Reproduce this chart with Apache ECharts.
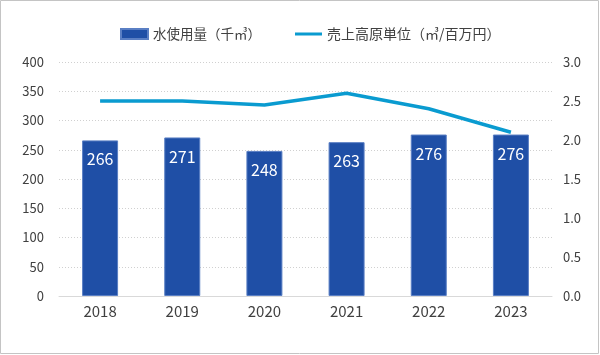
<!DOCTYPE html>
<html><head><meta charset="utf-8">
<script src="https://cdn.jsdelivr.net/npm/echarts@6/dist/echarts.min.js"></script>
<style>html,body{margin:0;padding:0;background:#fff}#c{width:600px;height:355px}</style>
</head><body><div id="c"></div>
<script>
const categories = ['2018','2019','2020','2021','2022','2023'];
const waterUse = [266, 271, 248, 263, 276, 276];
const intensity = [2.5, 2.5, 2.45, 2.6, 2.4, 2.1];
const leftTicks = {min:0, max:400, interval:50};
const rightTicks = {min:0, max:3, interval:0.5};
const barName = '水使用量（千㎥）';
const lineName = '売上高原単位（㎥/百万円）';

const font = '"Noto Sans CJK JP", "Noto Sans", sans-serif';
const chart = echarts.init(document.getElementById('c'), null, {renderer:'canvas'});
chart.setOption({
  animation:false,
  textStyle:{fontFamily:font},
  graphic:[{type:'rect', shape:{x:0.5,y:0.5,width:598,height:353}, style:{fill:'none', stroke:'#c4c4c4', lineWidth:1}, silent:true}],
  legend:{
    top:22, left:115, itemGap:34, itemWidth:27, itemHeight:10,
    textStyle:{fontFamily:font, fontSize:13, color:'#404040'},
    data:[{name:barName, icon:'rect', textStyle:{fontSize:13.5}},
          {name:lineName, icon:'path://M0,0L0.01,0ZM0,10L0.01,10ZM0,3.4H27V6.6H0Z', itemStyle:{color:'#0a9bd0', borderWidth:0}, textStyle:{fontSize:14}}]
  },
  grid:{left:59, right:48, top:62, bottom:59},
  xAxis:{
    type:'category', data:categories,
    axisLine:{lineStyle:{color:'#d9d9d9', width:1}},
    axisTick:{show:false},
    axisLabel:{color:'#404040', fontSize:15, margin:8, fontFamily:font}
  },
  yAxis:[{
    type:'value', min:leftTicks.min, max:leftTicks.max, interval:leftTicks.interval,
    axisLine:{show:false}, axisTick:{show:false},
    axisLabel:{color:'#404040', fontSize:13, margin:15, fontFamily:font},
    splitLine:{lineStyle:{color:'#d0d0d0', type:[1,2], width:1}}
  },{
    type:'value', min:rightTicks.min, max:rightTicks.max, interval:rightTicks.interval,
    axisLine:{show:false}, axisTick:{show:false},
    axisLabel:{color:'#404040', fontSize:13, margin:11, fontFamily:font, formatter:v=>v.toFixed(1)},
    splitLine:{show:false}
  }],
  series:[{
    name:barName, type:'bar', data:waterUse, barWidth:36, yAxisIndex:0,
    itemStyle:{color:'#1f4fa6', borderColor:'#5a7fc4', borderWidth:1},
    label:{show:true, position:'insideTop', distance:11, color:'#fff', fontSize:16, fontFamily:font}
  },{
    name:lineName, type:'line', data:intensity, yAxisIndex:1,
    symbol:'none', lineStyle:{color:'#0a9bd0', width:3.5}, itemStyle:{color:'#0a9bd0'}
  }]
});
</script></body></html>
